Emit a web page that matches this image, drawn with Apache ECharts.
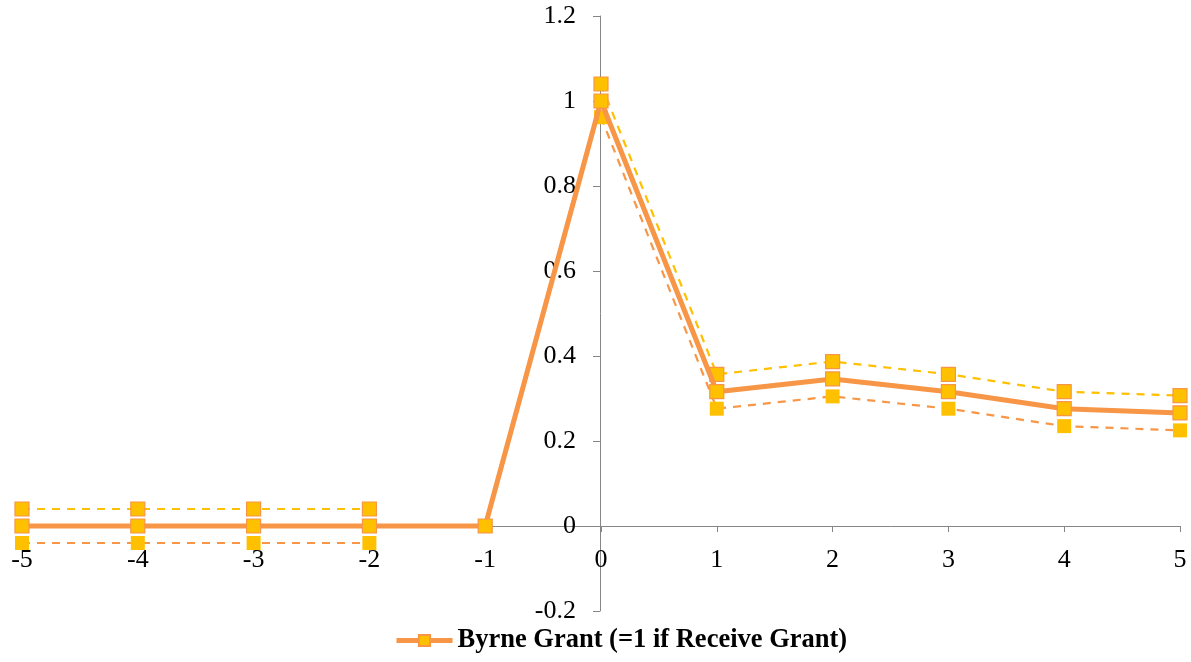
<!DOCTYPE html>
<html><head><meta charset="utf-8">
<script src="https://cdn.jsdelivr.net/npm/echarts@6/dist/echarts.min.js"></script>
<style>html,body{margin:0;padding:0;background:#fff}#c{width:1191px;height:662px}</style>
</head><body><div id="c"></div>
<script>
var xs = [-5, -4, -3, -2, -1, 0, 1, 2, 3, 4, 5];
var mainVals = [0, 0, 0, 0, 0, 1.0, 0.316, 0.346, 0.316, 0.276, 0.266];
var upperVals = [0.04, 0.04, 0.04, 0.04, null, 1.04, 0.357, 0.387, 0.357, 0.316, 0.307];
var lowerVals = [-0.04, -0.04, -0.04, -0.04, null, 0.962, 0.276, 0.305, 0.276, 0.235, 0.225];
var legendName = 'Byrne Grant (=1 if Receive Grant)';

function pairs(v){ return xs.map(function(x,i){ return [x, v[i]]; }); }
var font = 'Liberation Serif';
var orange = '#F79646', yellow = '#FFC000', axisGray = '#868686';

var chart = echarts.init(document.getElementById('c'));
chart.setOption({
  animation: false,
  textStyle: {fontFamily: font},
  grid: {left: 22, right: 11, top: 16, bottom: 51, containLabel: false},
  xAxis: {
    type: 'value', min: -5, max: 5, interval: 1, position: 'bottom', offset: -85,
    axisLine: {onZero: false, lineStyle: {color: axisGray, width: 1}},
    axisTick: {show: true, length: 6, lineStyle: {color: axisGray}},
    axisLabel: {color: '#000', fontSize: 26, fontFamily: font, margin: 21},
    splitLine: {show: false}
  },
  yAxis: {
    type: 'value', min: -0.2, max: 1.2, interval: 0.2, position: 'left', offset: -578,
    axisLine: {show: true, onZero: false, lineStyle: {color: axisGray, width: 1}},
    axisTick: {show: true, length: 7, lineStyle: {color: axisGray}},
    axisLabel: {color: '#000', fontSize: 26, fontFamily: font, margin: 24,
      formatter: function(v){ return String(Math.round(v*10)/10); }},
    splitLine: {show: false}
  },
  legend: {
    data: [legendName], bottom: 3, left: 389,
    itemWidth: 56, itemHeight: 14,
    lineStyle: {width: 5, color: orange},
    textStyle: {fontSize: 26.5, fontWeight: 'bold', fontFamily: font, color: '#000'}
  },
  series: [
    {
      name: 'upper', type: 'line', data: pairs(upperVals), connectNulls: false,
      symbol: 'rect', symbolSize: 14,
      lineStyle: {color: yellow, width: 2.2, type: [8, 7]},
      itemStyle: {color: yellow, borderColor: orange, borderWidth: 1.2},
      z: 3
    },
    {
      name: 'lower', type: 'line', data: pairs(lowerVals), connectNulls: false,
      symbol: 'rect', symbolSize: 14,
      lineStyle: {color: orange, width: 2.2, type: [8, 7]},
      itemStyle: {color: yellow, borderColor: yellow, borderWidth: 0},
      z: 3
    },
    {
      name: legendName, type: 'line', data: pairs(mainVals),
      symbol: 'rect', symbolSize: 14,
      lineStyle: {color: orange, width: 5},
      itemStyle: {color: yellow, borderColor: orange, borderWidth: 1.2},
      z: 4
    }
  ]
});
</script></body></html>
